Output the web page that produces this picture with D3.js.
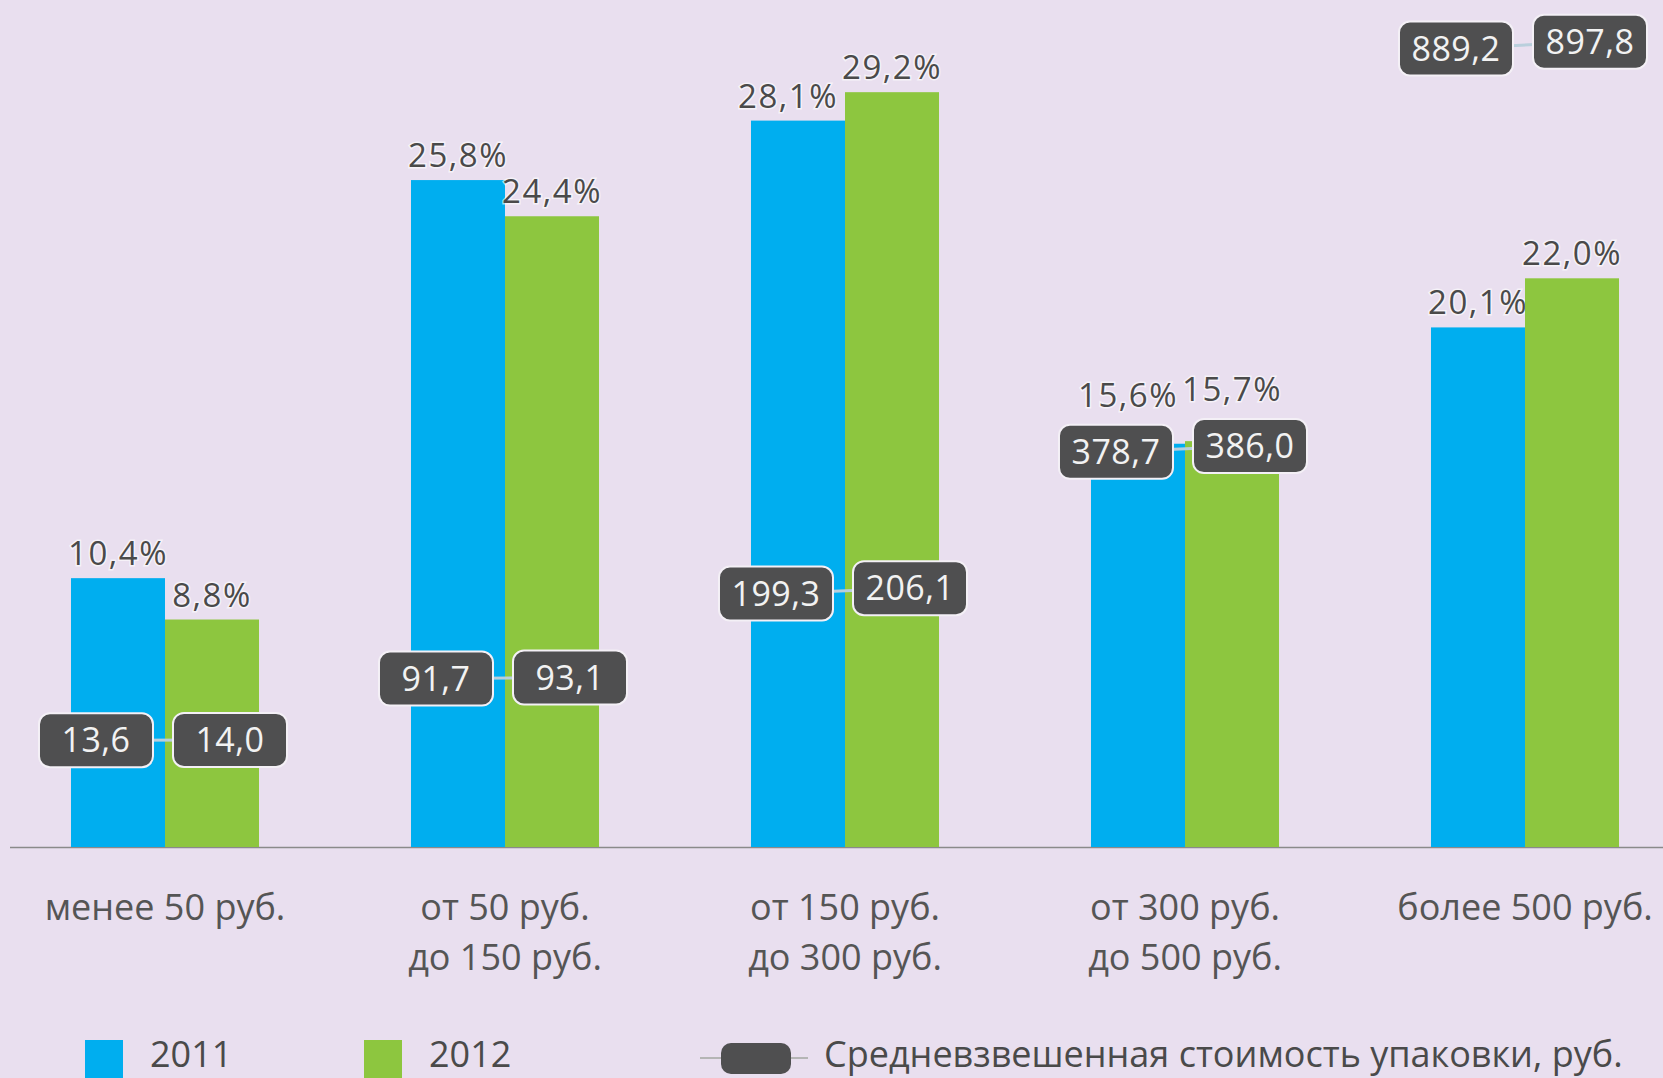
<!DOCTYPE html>
<html>
  <head>
    <meta http-equiv="Content-Type" content="text/html; charset=utf-8" />
    <style>
    body {
      margin: 0;
      background: #e9dfef;
    }
    svg text {
      font-family: "Open Sans", sans-serif;
    }
    </style>
    <script src="https://cdn.jsdelivr.net/npm/d3@7"></script>
  </head>
  <body>
    <script>
    // data
    var categories = ["менее 50 руб.", "от 50 руб.|до 150 руб.", "от 150 руб.|до 300 руб.", "от 300 руб.|до 500 руб.", "более 500 руб."];
    var share2011 = [10.4, 25.8, 28.1, 15.6, 20.1];
    var share2012 = [8.8, 24.4, 29.2, 15.7, 22.0];
    var price2011 = [13.6, 91.7, 199.3, 378.7, 889.2];
    var price2012 = [14.0, 93.1, 206.1, 386.0, 897.8];
    var years = ["2011", "2012"];
    var priceLegend = "Средневзвешенная стоимость упаковки, руб.";

    var width = 1663, height = 1078;
    var colors = {"2011": "#00aeef", "2012": "#8dc63f"};
    var fmt = function (v, d) { return v.toFixed(d).replace(".", ","); };

    var svg = d3.select("body").append("svg")
        .attr("width", width)
        .attr("height", height);

    var x = d3.scaleBand()
        .domain(categories)
        .range([-5, 1695])
        .paddingInner(0.447)
        .paddingOuter(0.2235);

    var xs = d3.scaleBand()
        .domain(years)
        .range([0, x.bandwidth()]);

    var y = d3.scaleLinear()
        .domain([0, 32])
        .range([847, 847 - 32 * 25.85]);

    // secondary axis for the price line (not drawn)
    var y2 = d3.scaleLinear()
        .domain([0, 950])
        .range([751, 0.5]);

    var rows = categories.map(function (c, i) {
      return {cat: c, s: [share2011[i], share2012[i]], p: [price2011[i], price2012[i]]};
    });

    var boxW = 114, boxH = 54;
    var offs = [-22, 18];
    function bx(k) { return xs(years[k]) + xs.bandwidth() / 2 + offs[k]; }

    // where the % label sits: above the bar, or above the price box if they meet
    function labelY(d, k) {
      var ly = y(d.s[k]) - 13;
      var boxTop = y2(d.p[k]) - boxH / 2;
      if (ly > boxTop - 8 && ly - 30 < boxTop + boxH) ly = boxTop - 18;
      return ly;
    }

    // baseline
    svg.append("line")
        .attr("x1", 10).attr("x2", width)
        .attr("y1", y(0) + 0.5).attr("y2", y(0) + 0.5)
        .style("stroke", "#8a8a8a")
        .style("stroke-width", 1.5);

    var g = svg.selectAll(".grp")
        .data(rows)
        .enter().append("g")
        .attr("class", "grp")
        .attr("transform", function (d) { return "translate(" + x(d.cat) + ",0)"; });

    years.forEach(function (yr, k) {
      g.append("rect")
          .attr("x", xs(yr))
          .attr("width", xs.bandwidth())
          .attr("y", function (d) { return y(d.s[k]); })
          .attr("height", function (d) { return y(0) - y(d.s[k]); })
          .style("fill", colors[yr]);

      g.append("text")
          .attr("x", function (d) {
            var cx = xs(yr) + xs.bandwidth() / 2;
            // nudge the 2011 label left when both labels are on one level
            if (k === 0 && Math.abs(labelY(d, 0) - labelY(d, 1)) < 32) cx -= 10;
            return cx;
          })
          .attr("y", function (d) { return labelY(d, k); })
          .attr("text-anchor", "middle")
          .style("font-size", "33px")
          .style("letter-spacing", "1.5px")
          .style("fill", "#4a4a4a")
          .style("stroke", "#ffffff")
          .style("stroke-width", 3)
          .style("stroke-opacity", 0.6)
          .style("paint-order", "stroke")
          .text(function (d) { return fmt(d.s[k], 1) + "%"; });
    });

    // price line and boxes
    g.append("line")
        .attr("x1", bx(0)).attr("x2", bx(1))
        .attr("y1", function (d) { return y2(d.p[0]); })
        .attr("y2", function (d) { return y2(d.p[1]); })
        .style("stroke", "#b9cfdc")
        .style("stroke-width", 3);

    [0, 1].forEach(function (k) {
      g.append("rect")
          .attr("x", bx(k) - boxW / 2)
          .attr("y", function (d) { return y2(d.p[k]) - boxH / 2; })
          .attr("width", boxW)
          .attr("height", boxH)
          .attr("rx", 11)
          .style("fill", "#4f4f50")
          .style("stroke", "#f4f0f6")
          .style("stroke-width", 2);

      g.append("text")
          .attr("x", bx(k))
          .attr("y", function (d) { return y2(d.p[k]); })
          .attr("dy", "0.36em")
          .attr("text-anchor", "middle")
          .style("font-size", "34px")
          .style("letter-spacing", "0.5px")
          .style("fill", "#f2f2f2")
          .text(function (d) { return fmt(d.p[k], 1); });
    });

    // category labels
    g.append("text")
        .attr("text-anchor", "middle")
        .style("font-size", "36px")
        .style("fill", "#555555")
        .each(function (d) {
          var t = d3.select(this);
          d.cat.split("|").forEach(function (line, i) {
            t.append("tspan")
                .attr("x", x.bandwidth() / 2)
                .attr("y", 920 + i * 50)
                .text(line);
          });
        });

    // legend
    var leg = svg.append("g");
    years.forEach(function (yr, i) {
      leg.append("rect")
          .attr("x", 85 + i * 279).attr("y", 1040)
          .attr("width", 38).attr("height", 40)
          .style("fill", colors[yr]);
      leg.append("text")
          .attr("x", 150 + i * 279).attr("y", 1067)
          .style("font-size", "36px")
          .style("fill", "#4a4a4a")
          .text(yr);
    });
    leg.append("line")
        .attr("x1", 700).attr("x2", 808)
        .attr("y1", 1058).attr("y2", 1058)
        .style("stroke", "#b5b5b5")
        .style("stroke-width", 2);
    leg.append("rect")
        .attr("x", 721).attr("y", 1043)
        .attr("width", 70).attr("height", 31)
        .attr("rx", 10)
        .style("fill", "#4f4f50");
    leg.append("text")
        .attr("x", 824).attr("y", 1067)
        .style("font-size", "36px")
        .style("fill", "#4a4a4a")
        .text(priceLegend);
    </script>
  </body>
</html>
